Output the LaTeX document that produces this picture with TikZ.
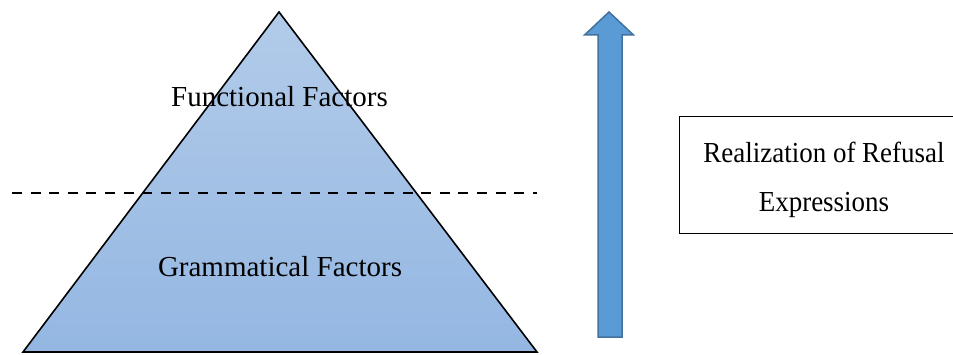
\documentclass[tikz,border=0pt]{standalone}
\usepackage{fontspec}
\setmainfont{Liberation Serif}
\begin{document}
\begin{tikzpicture}[x=1pt,y=1pt,
  label text/.style={font=\fontsize{29}{35}\selectfont, inner sep=0pt, anchor=base},
  box text/.style={label text},
  pyramid/.style={draw=black, line width=1.6pt, line join=miter,
    top color={rgb,255:red,178;green,203;blue,233},
    bottom color={rgb,255:red,148;green,183;blue,226}},
  divider/.style={draw=black, line width=2pt, dash pattern=on 10pt off 8.6pt},
  uparrow/.style={draw={rgb,255:red,65;green,113;blue,156}, line width=1.5pt,
    fill={rgb,255:red,91;green,155;blue,213}, line join=miter},
  framebox/.style={draw=black, line width=1pt, minimum width=290pt,
    minimum height=116pt, inner sep=0pt}]
\useasboundingbox (0,0) rectangle (953,354);

% pyramid
\coordinate (apex) at (279,342);
\coordinate (baseL) at (23,2);
\coordinate (baseR) at (537,2);
\path[pyramid] (apex) -- (baseR) -- (baseL) -- cycle;

% dashed divider between the two layers
\coordinate (divL) at (12,161);
\coordinate (divR) at (537,161);
\draw[divider] (divL) -- (divR);

\node[label text] (functional) at (279.5,247) {Functional Factors};
\node[label text] (grammatical) at (280,78) {Grammatical Factors};

% block arrow pointing upwards
\path[uparrow] (609,342) -- (633.5,319) -- (622,319) -- (622,17)
  -- (598,17) -- (598,319) -- (584.5,319) -- cycle;

% outcome box (runs past the right edge)
\node[framebox] (outcome) at (824,179) {};
\node[box text] (line1) at (824,143+49) {\scalebox{0.93}[1]{Realization of Refusal}};
\node[box text] (line2) at (824,143) {\scalebox{0.93}[1]{Expressions}};
\end{tikzpicture}
\end{document}
